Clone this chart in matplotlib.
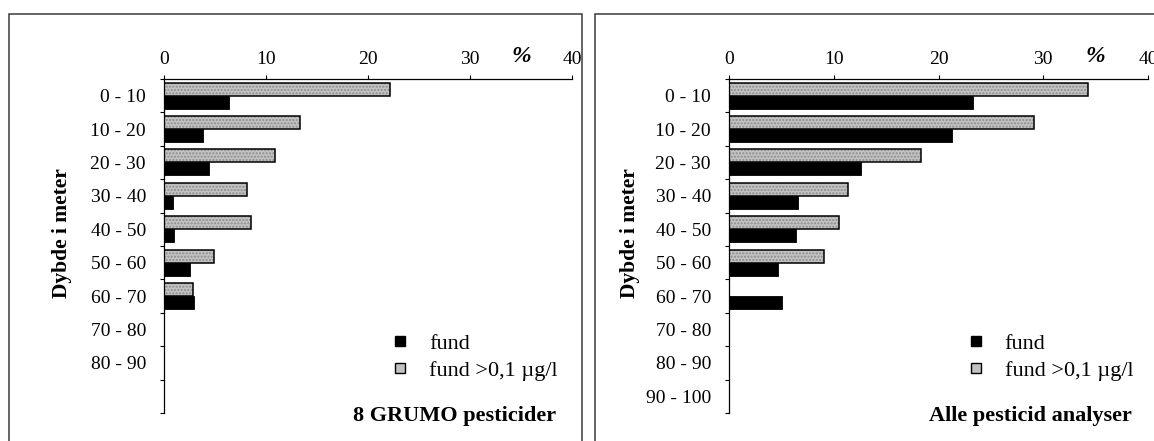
import numpy as np
import matplotlib
matplotlib.use("Agg")
import matplotlib.pyplot as plt
from matplotlib.lines import Line2D
from matplotlib.patches import Rectangle

plt.rcParams['font.family'] = ['Liberation Serif', 'DejaVu Serif']

# ---- data ----
left_labels = ['0 - 10', '10 - 20', '20 - 30', '30 - 40', '40 - 50',
               '50 - 60', '60 - 70', '70 - 80', '80 - 90', '']
right_labels = ['0 - 10', '10 - 20', '20 - 30', '30 - 40', '40 - 50',
                '50 - 60', '60 - 70', '70 - 80', '80 - 90', '90 - 100']
left_fund = [6.4, 3.8, 4.4, 0.9, 1.0, 2.5, 2.9]
left_fund_01 = [22.2, 13.3, 10.9, 8.1, 8.5, 4.9, 2.8]
right_fund = [23.3, 21.3, 12.6, 6.6, 6.4, 4.7, 5.1]
right_fund_01 = [34.3, 29.1, 18.3, 11.4, 10.5, 9.1, 0.0]
x_ticks = [0, 10, 20, 30, 40]
titles = ['8 GRUMO pesticider', 'Alle pesticid analyser']
legend_labels = ['fund', 'fund >0,1 \u00b5g/l']
ylabel = 'Dybde i meter'

W, H = 1154, 441
fig = plt.figure(figsize=(W / 100, H / 100), dpi=100)

GRAY = '#c2c2c2'
HATCH_GRAY = '#8c8c8c'


def px_axes(x0, x1, ytop, ybot):
    return [x0 / W, 1 - ybot / H, (x1 - x0) / W, (ybot - ytop) / H]


# frames
for (fx0, fx1) in [(9, 582), (595, 1160)]:
    fig.add_artist(Rectangle((fx0 / W, -0.1), (fx1 - fx0) / W, (H - 14) / H + 0.1,
                             transform=fig.transFigure, fill=False,
                             edgecolor='#3a3a3a', linewidth=1.1))

panels = [
    (px_axes(164, 572, 79, 413), left_labels, left_fund, left_fund_01, titles[0], -0.226),
    (px_axes(729, 1148, 79, 413), right_labels, right_fund, right_fund_01, titles[1], -0.212),
]

for rect, labels, fund, fund01, title, ylx in panels:
    ax = fig.add_axes(rect)
    n = len(labels)
    pos = np.arange(len(fund))
    # stippled grey bars: hatched fill, then black outline
    ax.barh(pos - 0.2, fund01, height=0.39, color=GRAY, edgecolor=HATCH_GRAY,
            hatch='.....', linewidth=0)
    ax.barh(pos - 0.2, fund01, height=0.39, fill=False, edgecolor='black', linewidth=1.1)
    ax.barh(pos + 0.19, fund, height=0.39, color='black', edgecolor='black', linewidth=0.6)

    ax.set_xlim(0, 40)
    ax.set_ylim(n - 0.5, -0.5)
    ax.xaxis.tick_top()
    ax.set_xticks(x_ticks)
    ax.set_xticklabels([str(t) for t in x_ticks])
    ax.tick_params(axis='x', direction='out', length=3, width=0.8, pad=5, labelsize=14)
    ax.set_yticks(np.arange(n))
    ax.set_yticklabels(labels)
    ax.set_yticks(np.arange(n + 1) - 0.5, minor=True)
    ax.tick_params(axis='y', which='major', length=0, pad=13, labelsize=14)
    ax.tick_params(axis='y', which='minor', direction='out', length=3, width=0.8)
    for s in ['right', 'bottom']:
        ax.spines[s].set_visible(False)
    ax.spines['top'].set_linewidth(0.9)
    ax.spines['left'].set_linewidth(0.9)

    ax.text(35, 1.066, '%', transform=ax.get_xaxis_transform(), ha='center', va='center',
            fontsize=17, fontweight='bold', fontstyle='italic')

    ax.set_ylabel(ylabel, fontsize=15.5, fontweight='bold')
    ax.yaxis.set_label_coords(ylx, 0.54)

    handles = [Line2D([], [], marker='s', linestyle='none', markersize=6.5,
                      markerfacecolor='black', markeredgecolor='black'),
               Line2D([], [], marker='s', linestyle='none', markersize=6.5,
                      markerfacecolor=GRAY, markeredgecolor='black', markeredgewidth=1.0)]
    ax.legend(handles, legend_labels, loc='lower right', bbox_to_anchor=(0.965, 0.095),
              frameon=False, fontsize=16, handlelength=0.8, handletextpad=0.9,
              labelspacing=0.3, borderpad=0, borderaxespad=0)

    ax.text(0.962, -0.008, title, transform=ax.transAxes, ha='right', va='center',
            fontsize=16, fontweight='bold')

fig.savefig('out.png', dpi=100)
